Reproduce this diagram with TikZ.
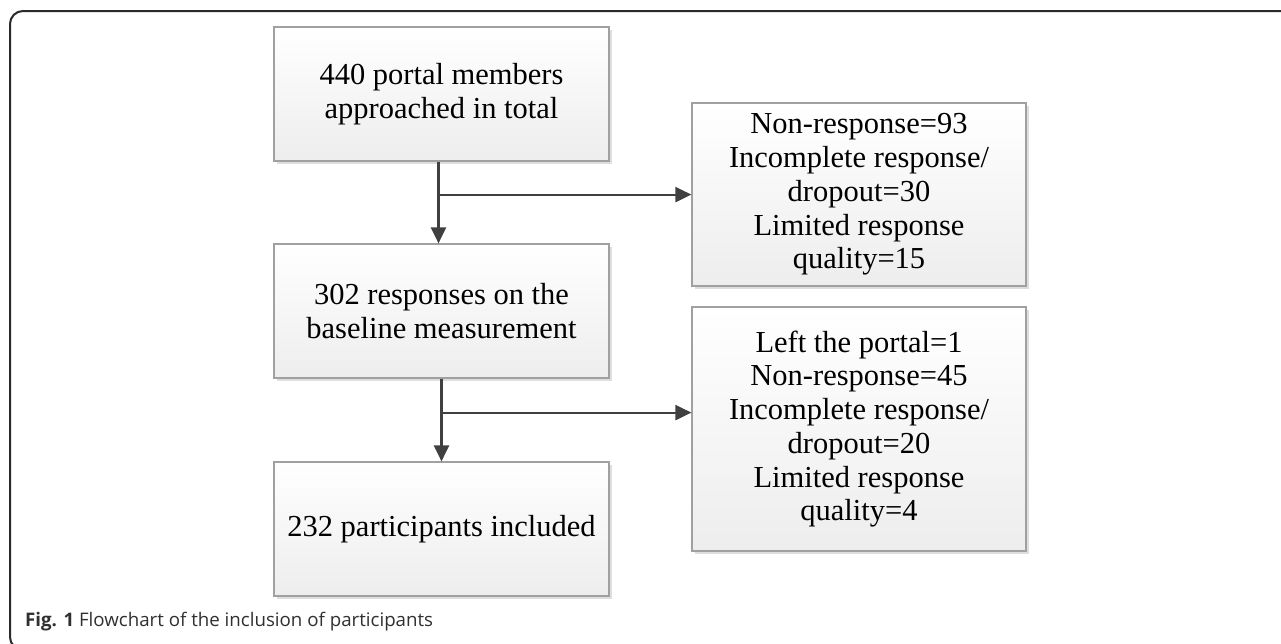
\documentclass[tikz,border=0pt]{standalone}
\usepackage{fontspec}
\setmainfont{Liberation Serif}
\newfontfamily\capfont{Open Sans}
\usetikzlibrary{arrows.meta,shadows,calc}
\definecolor{linegray}{HTML}{404040}
\definecolor{boxborder}{HTML}{A0A0A0}
\definecolor{framecol}{HTML}{2A2A2A}
\definecolor{captext}{HTML}{303030}
\tikzset{
  flowbox/.style={draw=boxborder, line width=1.2pt, top color=white, bottom color=black!7,
    drop shadow={shadow xshift=3pt, shadow yshift=-3pt, fill=black!13, opacity=1},
    align=center, inner sep=0pt, font=\fontsize{30.5}{33.7}\selectfont},
  mainbox/.style={flowbox, minimum width=335pt, minimum height=134pt},
  conn/.style={draw=linegray, line width=2.2pt},
  arr/.style={conn, -{Triangle[length=16pt,width=15pt]}}
}
\begin{document}
\begin{tikzpicture}[x=1pt,y=1pt]
\useasboundingbox (0,0) rectangle (1281,-643);
\draw[framecol, line width=2pt, rounded corners=13pt] (10,-11) rectangle (1300,-650);
\node[mainbox] (b1) at (441.5,-94) {440 portal members\\approached in total};
\node[mainbox] (b2) at (441.5,-311) {302 responses on the\\baseline measurement};
\node[mainbox] (b3) at (441.5,-529) {232 participants included};
\node[flowbox, minimum width=334pt, minimum height=183pt] (r1) at (859,-194.5)
  {Non-response=93\\Incomplete response/\\dropout=30\\Limited response\\quality=15};
\node[flowbox, minimum width=334pt, minimum height=244pt] (r2) at (859,-429)
  {Left the portal=1\\Non-response=45\\Incomplete response/\\dropout=20\\Limited response\\quality=4};
% connectors
\coordinate (j1) at ($(b1.south)+(-3,-33)$);
\draw[arr] ($(b1.south)+(-3,0)$) -- ($(b2.north)+(-3,0)$);
\draw[arr] (j1) -- (j1 -| r1.west);
\coordinate (j2) at ($(b2.south)+(0,-34)$);
\draw[arr] (b2.south) -- (b3.north);
\draw[arr] (j2) -- (j2 -| r2.west);
\node[anchor=base west, inner sep=0pt, text=captext, font=\capfont\fontsize{18.7}{21}\selectfont] (cap) at (25,-626)
  {\textbf{Fig. 1} Flowchart of the inclusion of participants};
\end{tikzpicture}
\end{document}
